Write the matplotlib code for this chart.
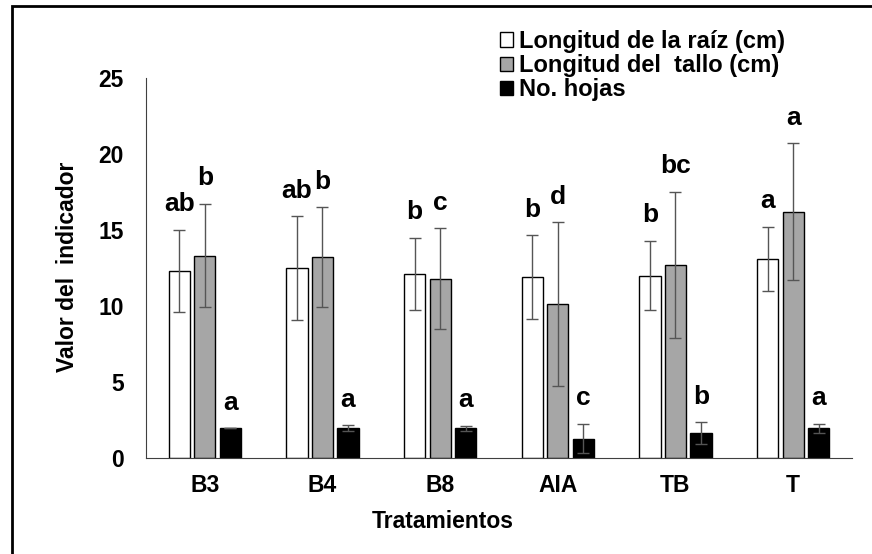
import numpy as np
import matplotlib
matplotlib.use("Agg")
import matplotlib.pyplot as plt
from matplotlib.patches import Rectangle

plt.rcParams['font.family'] = ['Liberation Sans', 'DejaVu Sans']
plt.rcParams['font.weight'] = 'bold'

# datos
tratamientos = ["B3", "B4", "B8", "AIA", "TB", "T"]
series = ["Longitud de la raíz (cm)", "Longitud del  tallo (cm)", "No. hojas"]

raiz = [12.3, 12.5, 12.1, 11.9, 12.0, 13.1]
raiz_err = [2.7, 3.4, 2.4, 2.75, 2.3, 2.1]
tallo = [13.3, 13.2, 11.8, 10.1, 12.7, 16.2]
tallo_err = [3.4, 3.3, 3.3, 5.4, 4.8, 4.5]
hojas = [1.93, 1.93, 1.93, 1.25, 1.62, 1.93]
hojas_err = [0.0, 0.2, 0.15, 0.96, 0.72, 0.3]

letras_raiz = ["ab", "ab", "b", "b", "b", "a"]
letras_tallo = ["b", "b", "c", "d", "bc", "a"]
letras_hojas = ["a", "a", "a", "c", "b", "a"]

colores = ["white", "#a6a6a6", "black"]

fig = plt.figure(figsize=(8.72, 5.54), dpi=100)
ax = fig.add_axes([0.1674, 0.1738, 0.8096, 0.6852])

x = np.arange(len(tratamientos))
ancho = 0.18
paso = 0.217

datos = [(raiz, raiz_err, letras_raiz), (tallo, tallo_err, letras_tallo),
         (hojas, hojas_err, letras_hojas)]
for i, (vals, errs, letras) in enumerate(datos):
    pos = x + (i - 1) * paso
    ax.bar(pos, vals, ancho, color=colores[i], edgecolor="black",
           linewidth=1.0, label=series[i], zorder=2)
    ax.errorbar(pos, vals, yerr=errs, fmt="none", ecolor="#555555",
                elinewidth=1.0, capsize=4, capthick=1.0, zorder=3)
    for p, v, e, t in zip(pos, vals, errs, letras):
        ax.text(p, v + e + 0.9, t, ha="center", va="bottom",
                fontsize=19, fontweight="bold")

ax.set_xlim(-0.5, len(tratamientos) - 0.5)
ax.set_ylim(0, 25)
ax.set_yticks([0, 5, 10, 15, 20, 25])
ax.set_xticks(x)
ax.set_xticklabels(tratamientos)
ax.tick_params(axis="both", length=0, labelsize=16.5)
ax.tick_params(axis="y", pad=16)
ax.tick_params(axis="x", pad=12)
for lab in ax.get_xticklabels() + ax.get_yticklabels():
    lab.set_fontweight("bold")

ax.spines["top"].set_visible(False)
ax.spines["right"].set_visible(False)
ax.spines["left"].set_color("#404040")
ax.spines["bottom"].set_color("#404040")

fig.text(443 / 872, 1 - 522 / 554, "Tratamientos", ha="center", va="center",
         fontsize=16.5, fontweight="bold")
fig.text(67 / 872, 1 - 267 / 554, "Valor del  indicador", ha="center",
         va="center", rotation=90, fontsize=16.5, fontweight="bold")

ax.legend(loc="upper left", bbox_to_anchor=(488 / 872, 1 - 18 / 554),
          bbox_transform=fig.transFigure, frameon=False,
          handlelength=0.55, handleheight=0.55, handletextpad=0.25,
          labelspacing=0.05, borderpad=0,
          prop={"weight": "bold", "size": 17})

# marco exterior
fig.patches.append(Rectangle((12 / 872, -0.05), 1.0, 1 - 6 / 554 + 0.05,
                             transform=fig.transFigure, fill=False,
                             edgecolor="black", linewidth=2))

fig.savefig("out.png", dpi=100)
